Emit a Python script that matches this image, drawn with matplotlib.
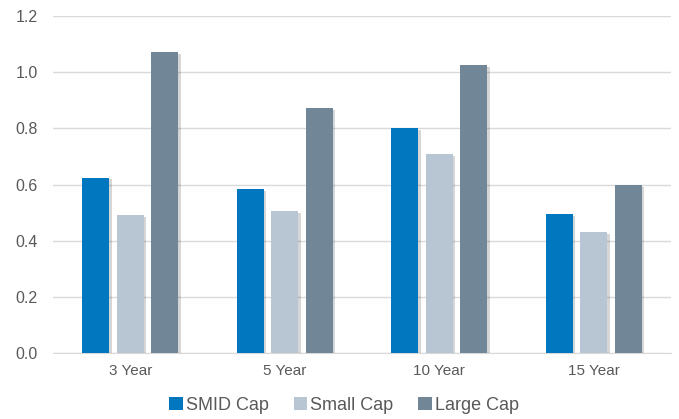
import numpy as np
import matplotlib
matplotlib.use("Agg")
import matplotlib.pyplot as plt
import matplotlib.patheffects as pe
from matplotlib.patches import Patch

plt.rcParams['font.family'] = ['Liberation Sans', 'DejaVu Sans']

periods = ['3 Year', '5 Year', '10 Year', '15 Year']
smid_cap = [0.625, 0.585, 0.802, 0.496]
small_cap = [0.492, 0.506, 0.709, 0.432]
large_cap = [1.071, 0.873, 1.024, 0.597]

series = [('SMID Cap', smid_cap, '#0077BE'),
          ('Small Cap', small_cap, '#B8C6D4'),
          ('Large Cap', large_cap, '#718696')]

fig = plt.figure(figsize=(6.79, 4.19), dpi=100)
ax = fig.add_axes([53 / 679, 1 - 353.3 / 419, 618 / 679, (353.3 - 16) / 419])

x = np.arange(len(periods))
width = 0.175
step = 0.223
shadow = [pe.SimplePatchShadow(offset=(1.8, -1.2), shadow_rgbFace='#000000', alpha=0.16),
          pe.Normal()]
for i, (name, vals, color) in enumerate(series):
    bars = ax.bar(x + (i - 1) * step, vals, width, color=color, zorder=3)
    for b in bars:
        b.set_path_effects(shadow)

ax.set_xlim(-0.5, len(periods) - 0.5)
ax.set_ylim(0, 1.2)
ax.set_yticks(np.arange(0, 1.21, 0.2))
ax.yaxis.set_major_formatter(matplotlib.ticker.FormatStrFormatter('%.1f'))
ax.set_xticks(x)
ax.set_xticklabels(periods)

ax.grid(axis='y', color='#D9D9D9', linewidth=1, zorder=0)
for side in ['top', 'right', 'left']:
    ax.spines[side].set_visible(False)
ax.spines['bottom'].set_color('#D9D9D9')
ax.tick_params(length=0, colors='#595959', labelsize=11)
ax.tick_params(axis='y', pad=11, labelsize=11.5)
ax.tick_params(axis='x', pad=8)

handles = [Patch(facecolor=c, label=n) for n, _, c in series]
fig.legend(handles=handles, loc='center', bbox_to_anchor=(344 / 679, 1 - 405 / 419), ncol=3,
           frameon=False, fontsize=13, handlelength=0.75, handleheight=0.75,
           handletextpad=0.15, columnspacing=1.4, labelcolor='#595959')

fig.savefig('out.png', dpi=100)
